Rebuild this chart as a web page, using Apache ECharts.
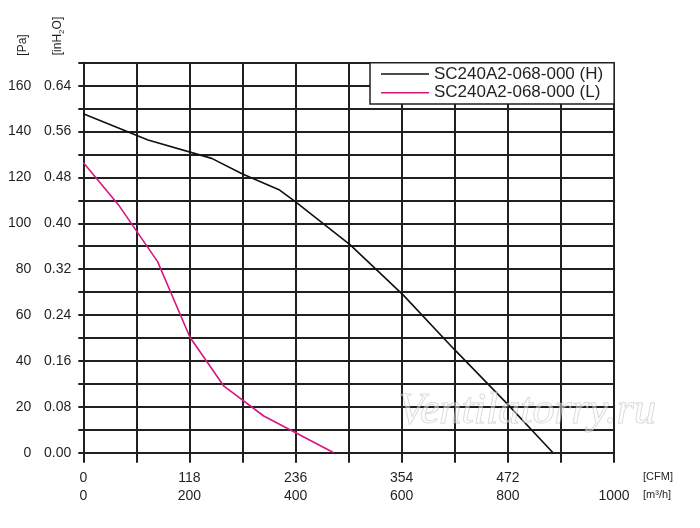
<!DOCTYPE html>
<html>
<head>
<meta charset="utf-8">
<script src="https://cdn.jsdelivr.net/npm/echarts@6/dist/echarts.min.js"></script>
<style>
  html, body { margin: 0; padding: 0; background: #fff; }
  #chart-panel { width: 700px; height: 528px; }
</style>
</head>
<body>
<div id="chart-panel"></div>
<script>
// airflow in m3/h, pressure in Pa
let flowH = [0, 122, 242, 300, 370, 400, 503, 603, 700, 798, 885]
let paH = [147.7, 136.3, 128.3, 121.5, 114.5, 109.3, 90.6, 68.7, 44.8, 21.5, 0]

let flowL = [0, 68, 140, 201, 265, 340, 402, 472]
let paL = [126.5, 107.5, 83.3, 50.3, 29, 16, 8.5, 0]

let seriesNames = ['SC240A2-068-000 (H)', 'SC240A2-068-000 (L)']

// tick labels
let paTicks = ['0', '20', '40', '60', '80', '100', '120', '140', '160']
let inH2OTicks = ['0.00', '0.08', '0.16', '0.24', '0.32', '0.40', '0.48', '0.56', '0.64']
let cfmTicks = ['0', '118', '236', '354', '472']
let m3hTicks = ['0', '200', '400', '600', '800', '1000']

! function(){
    let ink = '#231f20'
    let font = '"Liberation Sans", Arial, sans-serif'

    let myChart = echarts.init(document.getElementById('chart-panel'))

    /* 每 20 Pa 一个标签, 每 200 m3/h 一个标签. */
    function pick(list, step){
        return function(value){
            let i = Math.round(value / step)
            if (Math.abs(value - i * step) > 1e-6) return ''
            return list[i] === undefined ? '' : list[i]
        }
    }

    function pairs(xs, ys){
        return xs.map((x, i) => [x, ys[i]])
    }

    myChart.setOption({
        animation: false,
        textStyle: { fontFamily: font, color: ink },
        grid: { left: 83.3, top: 62.7, width: 530.7, height: 390, containLabel: false },
        legend: {
            left: 370,
            top: 62.7,
            orient: 'vertical',
            padding: [2.8, 11, 2.8, 11],
            icon: 'rect',
            itemWidth: 48,
            itemHeight: 1.6,
            itemGap: 1.7,
            backgroundColor: '#fff',
            borderColor: ink,
            borderWidth: 1.5,
            borderRadius: 0,
            textStyle: { fontSize: 17, lineHeight: 17, color: ink, fontFamily: font },
            data: seriesNames
        },
        xAxis: [
            {
                type: 'value', min: 0, max: 1000, interval: 100, position: 'bottom',
                axisLine: { show: true, lineStyle: { color: ink, width: 2 } },
                axisTick: { show: true, length: 10, lineStyle: { color: ink, width: 2 } },
                splitLine: { show: true, lineStyle: { color: ink, width: 2 } },
                axisLabel: { margin: 18, fontSize: 14, color: ink, formatter: pick(cfmTicks, 200) }
            },
            {
                type: 'value', min: 0, max: 1000, interval: 100, position: 'bottom',
                axisLine: { show: false }, axisTick: { show: false }, splitLine: { show: false },
                axisLabel: { margin: 36, fontSize: 14, color: ink, formatter: pick(m3hTicks, 200) }
            }
        ],
        yAxis: [
            {
                type: 'value', min: 0, max: 170, interval: 10, position: 'left', offset: 0,
                axisLine: { show: true, lineStyle: { color: ink, width: 2 } },
                axisTick: { show: true, length: 5, lineStyle: { color: ink, width: 2 } },
                splitLine: { show: true, lineStyle: { color: ink, width: 2 } },
                axisLabel: { margin: 52, fontSize: 14, color: ink, formatter: pick(paTicks, 20) }
            },
            {
                type: 'value', min: 0, max: 170, interval: 10, position: 'left', offset: 0,
                axisLine: { show: false }, axisTick: { show: false }, splitLine: { show: false },
                axisLabel: { margin: 12, fontSize: 14, color: ink, formatter: pick(inH2OTicks, 20) }
            }
        ],
        graphic: [
            {
                type: 'text', x: 23, y: 45, rotation: Math.PI / 2,
                style: { text: '[Pa]', fill: ink, font: '12px ' + font, align: 'center', verticalAlign: 'middle', textAlign: 'center', textVerticalAlign: 'middle' }
            },
            {
                type: 'text', x: 58, y: 36, rotation: Math.PI / 2,
                style: {
                    text: '[inH{s|2}O]', fill: ink, font: '12px ' + font,
                    align: 'center', verticalAlign: 'middle', textAlign: 'center', textVerticalAlign: 'middle',
                    rich: { s: { fontSize: 8, padding: [8, 0, 0, 0], fill: ink, fontFamily: font } }
                }
            },
            {
                type: 'text', x: 643, y: 477,
                style: { text: '[CFM]', fill: ink, font: '11px ' + font, verticalAlign: 'middle', textVerticalAlign: 'middle' }
            },
            {
                type: 'text', x: 643, y: 495,
                style: { text: '[m³/h]', fill: ink, font: '11px ' + font, verticalAlign: 'middle', textVerticalAlign: 'middle' }
            },
            {
                type: 'text', x: 398, y: 411, z: 100,
                style: {
                    text: 'Ventilatorry.ru', fill: 'rgba(255,255,255,0.45)', stroke: 'rgba(150,150,150,0.45)', lineWidth: 1,
                    font: 'italic 44px "Liberation Serif", serif', verticalAlign: 'middle', textVerticalAlign: 'middle'
                }
            }
        ],
        series: [
            {
                name: seriesNames[0], type: 'line', xAxisIndex: 0, yAxisIndex: 0,
                symbol: 'none', z: 5,
                lineStyle: { color: '#111', width: 1.6 }, itemStyle: { color: '#111' },
                data: pairs(flowH, paH)
            },
            {
                name: seriesNames[1], type: 'line', xAxisIndex: 0, yAxisIndex: 0,
                symbol: 'none', z: 5,
                lineStyle: { color: '#d6177f', width: 1.6 }, itemStyle: { color: '#d6177f' },
                data: pairs(flowL, paL)
            }
        ]
    })
}()
</script>
</body>
</html>
